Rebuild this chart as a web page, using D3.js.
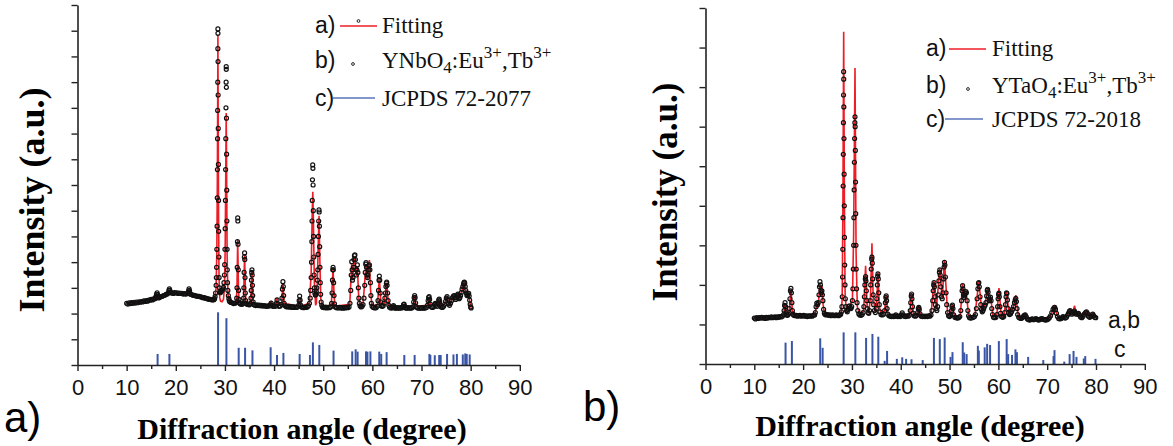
<!DOCTYPE html>
<html><head><meta charset="utf-8">
<script src="https://cdn.jsdelivr.net/npm/d3@7/dist/d3.min.js"></script>
<style>body{margin:0;background:#fff}svg{display:block}</style>
</head><body>
<svg id="c" width="1173" height="446"></svg>
<script>
// ---------- DATA ----------
const xMajorTicks = [0,10,20,30,40,50,60,70,80,90];
const xMinorTicks = [5,15,25,35,45,55,65,75,85];
const yTicksA = [0,100,200,300,400,500,600,700,800,900,1000,1100,1200,1300,1400];
const yTicksB = [0,100,200,300,400,500,600,700,800,900];

// panel a) observed YNbO4:Eu,Tb  [2theta, intensity]
const obsA = [[10,240],[10.25,237],[10.5,242],[10.75,239],[11,243],[11.25,240],[11.5,244],[11.75,241],[12,245],[12.25,242],[12.5,246],[12.75,244],[13,247],[13.25,245],[13.5,249],[13.75,247],[14,250],[14.25,248],[14.5,252],[14.75,252],[15,255],[15.25,253],[15.5,257],[15.75,258],[15.9,262],[16,268],[16.1,276],[16.2,281],[16.3,274],[16.4,264],[16.5,261],[16.75,263],[17,266],[17.25,267],[17.5,270],[17.75,271],[18,275],[18.25,276],[18.5,282],[18.6,290],[18.7,296],[18.8,290],[18.9,282],[19,280],[19.25,281],[19.5,278],[19.75,282],[20,280],[20.25,281],[20.5,278],[20.75,280],[21,278],[21.25,279],[21.5,276],[21.75,278],[22,276],[22.25,277],[22.5,280],[22.6,288],[22.7,296],[22.8,289],[22.9,279],[23,275],[23.25,274],[23.5,271],[23.75,271],[24,269],[24.25,268],[24.5,267],[24.75,267],[25,265],[25.25,264],[25.5,262],[25.75,262],[26,260],[26.25,259],[26.5,257],[26.75,256],[27,255],[27.25,254],[27.5,253],[27.75,254],[27.9,258],[28,266],[28.1,280],[28.2,310],[28.25,340],[28.3,380],[28.35,450],[28.4,540],[28.44,650],[28.47,760],[28.5,880],[28.52,990],[28.54,1100],[28.56,1230],[28.57,1307],[28.58,1290],[28.6,1180],[28.62,1050],[28.64,920],[28.67,780],[28.7,640],[28.73,520],[28.77,420],[28.82,340],[28.88,300],[28.95,286],[29.05,281],[29.15,284],[29.3,288],[29.45,292],[29.6,296],[29.7,302],[29.8,320],[29.9,350],[29.95,390],[30,450],[30.05,530],[30.1,640],[30.14,760],[30.18,880],[30.21,1000],[30.24,1100],[30.26,1160],[30.27,1150],[30.29,1080],[30.31,960],[30.34,820],[30.37,680],[30.4,560],[30.44,450],[30.48,370],[30.53,320],[30.6,290],[30.7,270],[30.8,258],[30.9,250],[31,246],[31.25,243],[31.5,242],[31.75,239],[32,240],[32.25,242],[32.4,260],[32.45,300],[32.5,380],[32.55,480],[32.6,572],[32.63,560],[32.67,470],[32.72,370],[32.78,290],[32.85,255],[32.95,243],[33.1,238],[33.25,237],[33.5,236],[33.7,240],[33.8,260],[33.85,300],[33.9,360],[33.95,420],[34,436],[34.04,410],[34.09,340],[34.15,280],[34.22,250],[34.3,240],[34.5,236],[34.75,235],[35,234],[35.2,240],[35.3,260],[35.35,290],[35.4,330],[35.45,360],[35.5,370],[35.55,350],[35.6,310],[35.66,270],[35.75,245],[35.85,236],[36,233],[36.25,231],[36.5,234],[36.75,231],[37,233],[37.25,230],[37.5,232],[37.75,229],[38,231],[38.25,229],[38.5,228],[38.75,230],[39,229],[39.25,234],[39.4,241],[39.55,232],[39.75,228],[40,229],[40.25,228],[40.45,240],[40.6,253],[40.75,238],[41,228],[41.25,229],[41.5,236],[41.6,260],[41.7,295],[41.8,324],[41.88,305],[41.95,270],[42.05,240],[42.25,230],[42.5,227],[42.75,226],[43,228],[43.25,225],[43.5,227],[43.75,224],[44,226],[44.25,225],[44.5,224],[44.75,226],[45,232],[45.1,250],[45.2,268],[45.3,252],[45.4,233],[45.6,226],[45.8,224],[46,223],[46.25,225],[46.5,224],[46.75,226],[47,230],[47.2,240],[47.35,260],[47.45,290],[47.55,340],[47.62,400],[47.68,480],[47.72,560],[47.77,640],[47.81,720],[47.86,778],[47.9,765],[47.94,700],[47.98,600],[48.03,500],[48.08,420],[48.14,350],[48.22,300],[48.3,280],[48.4,272],[48.5,275],[48.6,285],[48.7,300],[48.8,330],[48.88,370],[48.95,430],[49.02,500],[49.08,560],[49.14,603],[49.18,595],[49.23,540],[49.28,460],[49.34,380],[49.4,320],[49.48,275],[49.58,245],[49.7,232],[49.85,226],[50,224],[50.25,223],[50.5,225],[50.75,222],[51,224],[51.25,223],[51.5,226],[51.7,240],[51.8,280],[51.88,330],[51.95,370],[52,380],[52.05,370],[52.12,320],[52.2,270],[52.3,238],[52.45,226],[52.7,223],[53,222],[53.25,224],[53.5,222],[53.75,223],[54,221],[54.25,223],[54.5,222],[54.75,224],[55,223],[55.25,226],[55.45,240],[55.6,290],[55.7,350],[55.8,402],[55.88,370],[55.95,330],[56.05,340],[56.15,380],[56.25,410],[56.35,425],[56.45,428],[56.55,410],[56.65,370],[56.75,350],[56.85,370],[56.95,389],[57.05,360],[57.15,300],[57.25,260],[57.35,240],[57.5,230],[57.7,226],[57.9,228],[58.1,235],[58.3,260],[58.45,310],[58.55,360],[58.65,392],[58.72,398],[58.8,380],[58.9,350],[59,340],[59.1,350],[59.2,370],[59.3,385],[59.4,389],[59.5,370],[59.6,320],[59.7,270],[59.8,240],[59.95,228],[60.2,224],[60.5,222],[60.75,223],[61,228],[61.15,250],[61.25,290],[61.35,330],[61.42,346],[61.5,330],[61.6,280],[61.7,245],[61.8,230],[62,228],[62.2,230],[62.4,240],[62.55,260],[62.65,280],[62.75,305],[62.85,318],[62.92,322],[63,310],[63.1,280],[63.2,250],[63.35,232],[63.5,225],[63.75,222],[64,222],[64.2,226],[64.3,231],[64.4,226],[64.6,222],[64.8,221],[65,223],[65.25,222],[65.5,221],[65.75,223],[66,222],[66.2,226],[66.35,235],[66.45,237],[66.6,228],[66.8,222],[67,221],[67.25,223],[67.5,222],[67.75,221],[68,222],[68.25,226],[68.4,245],[68.5,262],[68.6,270],[68.7,262],[68.8,242],[68.95,226],[69.2,222],[69.5,221],[69.75,222],[70,221],[70.25,223],[70.5,221],[70.75,222],[71,224],[71.2,232],[71.35,250],[71.45,262],[71.55,266],[71.65,255],[71.8,236],[72,226],[72.25,224],[72.5,227],[72.7,236],[72.8,240],[72.95,232],[73.2,228],[73.4,240],[73.5,252],[73.6,256],[73.7,248],[73.85,232],[74,226],[74.25,224],[74.5,228],[74.7,236],[74.9,248],[75.05,260],[75.2,266],[75.35,255],[75.5,238],[75.7,232],[75.9,240],[76.1,250],[76.3,262],[76.5,268],[76.65,270],[76.8,262],[76.95,255],[77.1,262],[77.3,272],[77.4,276],[77.5,268],[77.65,258],[77.8,262],[77.95,270],[78.1,282],[78.25,295],[78.4,305],[78.55,315],[78.65,320],[78.72,322],[78.8,318],[78.9,305],[79,290],[79.1,280],[79.25,270],[79.4,272],[79.5,278],[79.6,279],[79.7,268],[79.8,252],[79.9,236],[80,226],[80.1,222]];

// panel a) fitted profile
const fitA = [[10,240],[15.8,258],[16.2,278],[16.5,261],[18.45,280],[18.7,292],[18.95,280],[22.45,278],[22.7,292],[22.95,275],[27.75,254],[28,262],[28.2,300],[28.35,440],[28.45,700],[28.52,1000],[28.57,1284],[28.62,1000],[28.7,600],[28.8,340],[28.95,262],[29.1,248],[29.4,246],[29.7,255],[29.9,300],[30.05,450],[30.15,700],[30.26,980],[30.36,700],[30.45,420],[30.6,280],[30.8,250],[32.3,242],[32.45,300],[32.6,486],[32.75,300],[32.9,245],[33.75,238],[33.9,340],[34,432],[34.1,340],[34.25,242],[35.25,240],[35.4,320],[35.5,365],[35.6,310],[35.8,238],[39.2,230],[39.4,249],[39.6,230],[40.4,229],[40.6,261],[40.8,230],[41.55,240],[41.8,318],[42.05,240],[45,228],[45.2,262],[45.4,228],[47.2,240],[47.55,360],[47.75,580],[47.88,674],[48,560],[48.2,320],[48.45,232],[48.6,240],[48.8,320],[49,480],[49.15,580],[49.3,420],[49.5,260],[49.8,228],[51.65,232],[51.85,320],[52,375],[52.15,300],[52.35,228],[55.4,236],[55.8,395],[55.95,330],[56.2,390],[56.45,420],[56.75,345],[56.95,385],[57.2,270],[57.5,228],[58.1,235],[58.5,340],[58.7,392],[58.95,335],[59.4,408],[59.6,300],[59.9,230],[61.05,235],[61.42,340],[61.75,236],[62.4,240],[62.9,320],[63.3,235],[64.1,223],[64.3,230],[64.5,222],[66.2,224],[66.45,236],[66.7,224],[68.3,230],[68.6,268],[68.9,228],[71.2,232],[71.55,264],[71.85,232],[72.8,238],[73.3,230],[73.6,254],[73.9,230],[74.7,236],[75.2,264],[75.6,234],[76.6,268],[77,258],[77.4,274],[77.7,258],[78.1,282],[78.7,320],[79.1,280],[79.3,270],[79.6,277],[79.9,236],[80.1,222]];

// panel a) JCPDS 72-2077 reference lines
const refA = [[16.3,43],[18.7,43],[28.6,205],[30.3,182],[32.8,67],[34.1,67],[35.6,57],[39.3,69],[40.6,39],[41.9,47],[45.2,43],[47.3,39],[47.9,88],[49.2,78],[52.1,56],[55.9,53],[56.6,61],[57.0,52],[58.7,53],[59.0,52],[59.6,53],[61.4,52],[61.8,43],[62.9,50],[66.5,39],[68.6,39],[71.6,43],[71.8,39],[72.7,38],[73.6,39],[73.9,39],[75.2,43],[76.5,41],[77.2,43],[78.4,41],[78.9,45],[79.2,43],[79.8,41]];

// panel b) observed YTaO4:Eu,Tb
const obsB = [[10,116],[10.25,114],[10.5,117],[10.75,115],[11,117],[11.25,116],[11.5,118],[11.75,116],[12,117],[12.25,115],[12.5,118],[12.75,116],[13,118],[13.25,117],[13.5,119],[13.75,117],[14,118],[14.25,119],[14.5,117],[14.75,119],[15,118],[15.25,120],[15.5,119],[15.75,121],[16,125],[16.1,135],[16.2,148],[16.3,155],[16.4,145],[16.5,130],[16.65,124],[16.8,123],[17,126],[17.15,140],[17.3,165],[17.4,185],[17.5,191],[17.6,180],[17.7,155],[17.8,135],[17.95,126],[18.1,123],[18.35,122],[18.6,123],[18.85,121],[19.1,122],[19.35,123],[19.6,121],[19.85,122],[20.1,123],[20.35,121],[20.6,122],[20.85,120],[21.1,122],[21.35,121],[21.6,122],[21.85,121],[22.1,123],[22.35,124],[22.5,130],[22.65,145],[22.8,154],[22.95,150],[23.1,155],[23.25,175],[23.35,195],[23.45,208],[23.55,200],[23.65,185],[23.75,180],[23.85,185],[23.95,175],[24.05,160],[24.2,138],[24.35,128],[24.5,125],[24.75,124],[25,125],[25.25,123],[25.5,124],[25.75,122],[26,124],[26.25,123],[26.5,122],[26.75,124],[27,123],[27.25,122],[27.5,124],[27.7,126],[27.85,132],[27.95,145],[28.02,170],[28.08,220],[28.13,290],[28.17,370],[28.2,450],[28.23,530],[28.26,610],[28.28,680],[28.3,739],[28.32,720],[28.34,650],[28.37,570],[28.4,480],[28.43,400],[28.47,320],[28.52,250],[28.58,200],[28.65,165],[28.75,145],[28.9,135],[29.05,132],[29.2,138],[29.35,145],[29.5,147],[29.65,142],[29.8,140],[29.95,145],[30.1,160],[30.2,190],[30.28,240],[30.35,300],[30.4,370],[30.45,440],[30.5,510],[30.55,570],[30.6,610],[30.63,625],[30.66,600],[30.7,540],[30.74,460],[30.78,380],[30.83,300],[30.88,240],[30.95,190],[31.05,155],[31.2,135],[31.4,127],[31.6,124],[31.85,123],[32.1,125],[32.3,130],[32.45,145],[32.55,170],[32.65,200],[32.75,215],[32.8,221],[32.87,210],[32.95,185],[33.05,160],[33.15,140],[33.3,130],[33.45,128],[33.6,135],[33.75,160],[33.85,200],[33.95,240],[34.05,265],[34.1,270],[34.17,255],[34.25,215],[34.35,175],[34.45,150],[34.6,135],[34.8,130],[35,140],[35.1,165],[35.2,200],[35.27,222],[35.33,228],[35.4,215],[35.5,180],[35.6,150],[35.75,132],[35.95,125],[36.2,124],[36.45,126],[36.7,135],[36.85,155],[36.95,168],[37.02,172],[37.1,160],[37.2,140],[37.35,126],[37.6,122],[37.85,121],[38.1,120],[38.35,121],[38.6,120],[38.85,122],[39,124],[39.15,121],[39.4,120],[39.65,121],[39.9,120],[40.1,124],[40.3,129],[40.5,124],[40.75,121],[41,120],[41.25,122],[41.5,121],[41.75,123],[41.95,135],[42.05,155],[42.15,172],[42.22,177],[42.3,165],[42.4,145],[42.55,128],[42.75,122],[43,121],[43.25,123],[43.45,130],[43.6,140],[43.7,143],[43.8,138],[43.95,127],[44.2,121],[44.45,120],[44.7,121],[44.95,120],[45.2,121],[45.45,120],[45.7,122],[45.95,121],[46.2,124],[46.4,135],[46.55,160],[46.65,185],[46.75,200],[46.82,206],[46.9,195],[47,170],[47.1,150],[47.25,140],[47.4,135],[47.55,145],[47.7,175],[47.82,210],[47.92,232],[48,238],[48.08,225],[48.2,195],[48.35,170],[48.5,165],[48.65,180],[48.78,215],[48.88,245],[48.96,257],[49.05,250],[49.15,220],[49.28,180],[49.42,150],[49.6,130],[49.8,122],[50,120],[50.2,123],[50.4,135],[50.5,145],[50.6,149],[50.7,140],[50.85,124],[51.1,118],[51.35,117],[51.6,116],[51.85,117],[52.1,120],[52.3,135],[52.45,160],[52.57,185],[52.67,198],[52.75,190],[52.85,175],[52.95,168],[53.05,172],[53.2,178],[53.35,183],[53.45,180],[53.6,160],[53.75,135],[53.9,122],[54.1,117],[54.35,116],[54.6,117],[54.85,118],[55.1,120],[55.3,125],[55.5,140],[55.65,165],[55.8,190],[55.92,204],[56,206],[56.1,195],[56.25,170],[56.4,150],[56.55,138],[56.7,132],[56.85,135],[57,140],[57.15,146],[57.3,149],[57.45,155],[57.6,172],[57.72,186],[57.8,189],[57.9,182],[58,170],[58.12,160],[58.25,164],[58.38,169],[58.5,160],[58.65,140],[58.8,125],[59,118],[59.25,117],[59.5,118],[59.7,125],[59.85,145],[59.95,165],[60.05,176],[60.12,179],[60.2,170],[60.32,145],[60.45,128],[60.65,120],[60.9,118],[61.1,120],[61.3,130],[61.45,150],[61.57,170],[61.67,180],[61.75,178],[61.85,162],[61.98,140],[62.1,128],[62.3,125],[62.5,127],[62.7,132],[62.9,138],[63.1,145],[63.3,155],[63.45,162],[63.58,166],[63.7,158],[63.82,140],[63.95,125],[64.15,118],[64.4,116],[64.65,115],[64.9,117],[65.1,120],[65.3,123],[65.5,124],[65.7,120],[65.95,114],[66.2,112],[66.45,111],[66.7,113],[66.95,114],[67.2,112],[67.45,113],[67.7,115],[67.95,113],[68.2,111],[68.45,112],[68.7,114],[68.95,115],[69.2,113],[69.45,112],[69.7,111],[69.95,112],[70.2,114],[70.45,117],[70.7,122],[70.95,130],[71.2,138],[71.4,142],[71.55,143],[71.7,138],[71.9,128],[72.1,120],[72.35,115],[72.6,114],[72.85,115],[73.05,117],[73.25,120],[73.45,118],[73.7,116],[73.95,118],[74.15,123],[74.35,128],[74.55,133],[74.7,135],[74.85,130],[75.05,126],[75.25,129],[75.45,132],[75.6,134],[75.75,130],[75.95,126],[76.2,127],[76.4,128],[76.6,124],[76.85,119],[77.1,117],[77.35,121],[77.6,126],[77.85,130],[78.05,132],[78.25,128],[78.45,121],[78.7,118],[78.95,120],[79.15,124],[79.35,126],[79.55,122],[79.75,118],[79.95,117]];

// panel b) fitted profile
const fitB = [[10,116],[16,124],[16.3,152],[16.55,124],[17.1,126],[17.5,188],[17.85,126],[22.4,124],[22.8,152],[23.1,150],[23.45,200],[23.65,180],[23.9,195],[24.1,150],[24.4,124],[27.8,125],[28,165],[28.15,400],[28.31,840],[28.45,420],[28.6,180],[28.85,135],[29.5,145],[30.1,160],[30.35,330],[30.63,748],[30.85,280],[31.1,145],[31.6,124],[32.4,135],[32.8,248],[33.1,150],[33.45,128],[33.8,170],[34.1,305],[34.35,170],[34.8,130],[35.1,160],[35.33,232],[35.6,145],[36,125],[36.7,135],[37,175],[37.35,125],[41.8,122],[42.2,180],[42.6,125],[43.3,123],[43.7,146],[44.1,121],[46.2,124],[46.8,210],[47.3,140],[48,242],[48.5,165],[48.95,262],[49.6,128],[50.1,121],[50.6,150],[51,118],[52.2,122],[52.67,202],[52.95,168],[53.4,185],[53.9,122],[55.2,122],[56,210],[56.6,134],[57.3,152],[57.8,192],[58.15,160],[58.4,170],[58.9,122],[59.7,125],[60.12,192],[60.6,120],[61.2,124],[61.68,182],[62.2,126],[63,140],[63.58,174],[64.1,118],[65,118],[65.5,126],[66,114],[70.5,117],[71.5,145],[72.3,115],[74.1,122],[74.7,137],[75.1,126],[75.62,147],[75.9,126],[76.4,129],[77,117],[78.05,134],[78.7,118],[79.35,127],[80,117]];

// panel b) JCPDS 72-2018 reference lines
const refB = [[16.4,54],[17.7,58],[23.5,65],[24.0,41],[28.3,80],[30.7,80],[32.9,66],[34.2,76],[35.4,69],[36.7,8],[37.2,33],[39.2,13],[40.3,17],[41.1,13],[42.2,12],[44.5,10],[46.8,66],[48.0,63],[49.0,67],[50.2,18],[50.6,30],[52.7,55],[53.0,29],[53.5,25],[55.8,46],[56.0,34],[57.2,42],[57.7,51],[58.3,48],[60.1,58],[61.7,63],[62.0,25],[62.8,23],[63.5,37],[63.8,30],[66.1,18],[69.2,10],[71.3,20],[71.5,35],[73.5,6],[74.6,25],[75.4,33],[76.0,18],[77.5,14],[77.8,20],[79.9,13]];

// ---------- DRAWING ----------
const svg = d3.select('#c');
const RED = '#ee1c25', BLUE = '#3a55a5', AX = '#222';
const SANS = '"Liberation Sans", Arial, sans-serif';
const SERIF = '"Liberation Serif", "Times New Roman", serif';

function panel(c) {
  const x = d3.scaleLinear().domain([0, 90]).range([c.x0, c.x1]);
  const y = d3.scaleLinear().domain([0, c.ymax]).range([c.yb, c.yt]);
  const g = svg.append('g');

  g.selectAll('line.stick').data(c.ref).join('line').attr('class','stick')
    .attr('x1', d => x(d[0])).attr('x2', d => x(d[0]))
    .attr('y1', y(0)).attr('y2', d => y(d[1]))
    .attr('stroke', BLUE).attr('stroke-width', 2);

  g.append('path').datum(c.fit)
    .attr('d', d3.line().x(d => x(d[0])).y(d => y(d[1])))
    .attr('fill', 'none').attr('stroke', RED).attr('stroke-width', 1.6);

  g.selectAll('circle.obs').data(c.obs).join('circle').attr('class','obs')
    .attr('cx', d => x(d[0])).attr('cy', d => y(d[1])).attr('r', 2.0)
    .attr('fill', 'none').attr('stroke', '#111').attr('stroke-width', 1.2);

  // x axis
  const xa = g.append('g').attr('transform', `translate(0,${c.yb})`)
    .call(d3.axisBottom(x).tickValues(xMajorTicks).tickSize(6).tickSizeOuter(0).tickPadding(8).tickFormat(d3.format('d')));
  g.append('g').attr('transform', `translate(0,${c.yb})`)
    .call(d3.axisBottom(x).tickValues(xMinorTicks).tickSize(4).tickSizeOuter(0).tickFormat(''))
    .select('.domain').remove();
  xa.selectAll('text').attr('font-family', SANS).attr('font-size', 22).attr('fill', '#111');
  // y axis
  g.append('g').attr('transform', `translate(${c.x0},0)`)
    .call(d3.axisLeft(y).tickValues(c.yticks).tickSize(6).tickSizeOuter(0).tickFormat(''));
  g.selectAll('.domain').attr('stroke', AX).attr('stroke-width', 1.6);
  g.selectAll('.tick line').attr('stroke', AX).attr('stroke-width', 1.4);

  // titles
  g.append('text').attr('x', c.xtx).attr('y', c.xty).attr('text-anchor', 'middle')
    .attr('font-family', SERIF).attr('font-weight', 'bold').attr('font-size', 30)
    .text('Diffraction angle (degree)');
  g.append('text').attr('transform', `translate(${c.ytx},${c.yty}) rotate(-90)`)
    .attr('text-anchor', 'middle').attr('font-family', SERIF).attr('font-weight', 'bold')
    .attr('font-size', c.ytfs).text('Intensity (a.u.)');
  g.append('text').attr('x', c.lblx).attr('y', c.lbly).attr('font-family', SANS)
    .attr('font-size', 42).text(c.label);

  // legend
  const L = c.leg;
  const t = (xx, yy, s, fam) => g.append('text').attr('x', xx).attr('y', yy)
    .attr('font-family', fam).attr('font-size', 23).attr('fill', '#111').text(s);
  t(L.x, L.ya, 'a)', SANS);
  g.append('line').attr('x1', L.la[0]).attr('x2', L.la[1]).attr('y1', L.ya - 7).attr('y2', L.ya - 7)
    .attr('stroke', RED).attr('stroke-width', 1.5);
  if (L.fitDot) g.append('circle').attr('cx', (L.la[0] + L.la[1]) / 2).attr('cy', L.ya - 12).attr('r', 1.4)
    .attr('fill', '#fff').attr('stroke', '#111').attr('stroke-width', 0.9);
  t(L.tx, L.ya, 'Fitting', SERIF);
  t(L.x, L.yb, 'b)', SANS);
  g.append('circle').attr('cx', L.dotx).attr('cy', L.yb - 4).attr('r', 1.4)
    .attr('fill', '#fff').attr('stroke', '#111').attr('stroke-width', 0.9);
  const tb = t(L.tx, L.yb, '', SERIF);
  tb.append('tspan').text(c.host);
  tb.append('tspan').attr('dy', 5).attr('font-size', 17).text('4');
  tb.append('tspan').attr('dy', -5).text(':Eu');
  tb.append('tspan').attr('dy', -10).attr('font-size', 17).text('3+');
  tb.append('tspan').attr('dy', 10).text(',Tb');
  tb.append('tspan').attr('dy', -10).attr('font-size', 17).text('3+');
  t(L.x, L.yc, 'c)', SANS);
  g.append('line').attr('x1', L.lc[0]).attr('x2', L.lc[1]).attr('y1', L.yc - 8).attr('y2', L.yc - 8)
    .attr('stroke', '#5a74bd').attr('stroke-width', 1.5);
  t(L.tx, L.yc, c.card, SERIF);

  if (c.side) {
    t(c.side.x, c.side.y1, 'a,b', SANS);
    t(c.side.x + 6, c.side.y2, 'c', SANS);
  }
}

panel({x0: 77.5, x1: 519.8, yb: 365, yt: 5, ymax: 1400, yticks: yTicksA,
  obs: obsA, fit: fitA, ref: refA, host: 'YNbO', card: 'JCPDS 72-2077',
  xtx: 302, xty: 439, ytx: 44, yty: 200, ytfs: 36, lblx: 4, lbly: 432, label: 'a)',
  leg: {x: 315, tx: 382, ya: 33, yb: 68, yc: 106, la: [340, 377], lc: [333, 375], dotx: 353, fitDot: true}});

panel({x0: 705.5, x1: 1144.8, yb: 364, yt: 8, ymax: 900, yticks: yTicksB,
  obs: obsB, fit: fitB, ref: refB, host: 'YTaO', card: 'JCPDS 72-2018',
  xtx: 920, xty: 436, ytx: 677, yty: 192, ytfs: 35, lblx: 583, lbly: 421, label: 'b)',
  leg: {x: 926, tx: 992, ya: 56, yb: 93, yc: 127, la: [949, 986], lc: [945, 983], dotx: 968, fitDot: false},
  side: {x: 1108, y1: 328, y2: 357}});
</script>
</body></html>
